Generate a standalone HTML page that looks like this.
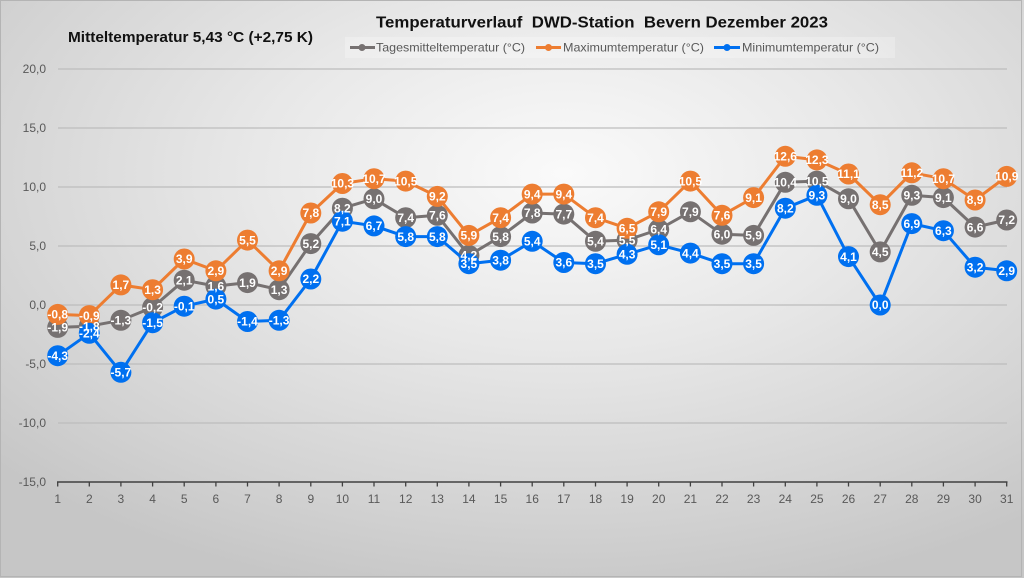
<!DOCTYPE html>
<html><head><meta charset="utf-8"><style>
html,body{margin:0;padding:0;background:#fff;}
svg{display:block;font-family:"Liberation Sans",Arial,sans-serif;}
</style></head><body>
<svg width="1024" height="578" viewBox="0 0 1024 578" xmlns="http://www.w3.org/2000/svg">
<defs>
<radialGradient id="bg" cx="0.55" cy="0.3" r="0.75">
<stop offset="0" stop-color="#fafafa"/>
<stop offset="0.4" stop-color="#e8e8e8"/>
<stop offset="0.8" stop-color="#d2d2d2"/>
<stop offset="1" stop-color="#c6c6c6"/>
</radialGradient>
</defs>
<rect x="0" y="0" width="1024" height="578" fill="url(#bg)"/>
<rect x="0.5" y="0.5" width="1021" height="576" fill="none" stroke="#b4b4b4" stroke-width="1"/>

<!-- titles -->
<text x="68" y="42" font-size="15" font-weight="bold" fill="#111" textLength="245" lengthAdjust="spacingAndGlyphs">Mitteltemperatur 5,43 °C (+2,75 K)</text>
<text x="376" y="27.5" font-size="16" font-weight="bold" fill="#111" textLength="452" lengthAdjust="spacingAndGlyphs" xml:space="preserve">Temperaturverlauf  DWD-Station  Bevern Dezember 2023</text>

<!-- legend -->
<rect x="345" y="37" width="550" height="21" fill="#ffffff" fill-opacity="0.25"/>
<g stroke-width="3">
<line x1="350" y1="47.5" x2="375" y2="47.5" stroke="#767171"/>
<line x1="536" y1="47.5" x2="561" y2="47.5" stroke="#ED7D31"/>
<line x1="714" y1="47.5" x2="740" y2="47.5" stroke="#0070F0"/>
</g>
<circle cx="362" cy="47.5" r="3.5" fill="#767171"/>
<circle cx="548.5" cy="47.5" r="3.5" fill="#ED7D31"/>
<circle cx="727" cy="47.5" r="3.5" fill="#0070F0"/>
<g font-size="12" fill="#595959">
<text x="376" y="51.5" textLength="149" lengthAdjust="spacingAndGlyphs">Tagesmitteltemperatur (°C)</text>
<text x="563" y="51.5" textLength="141" lengthAdjust="spacingAndGlyphs">Maximumtemperatur (°C)</text>
<text x="742" y="51.5" textLength="137" lengthAdjust="spacingAndGlyphs">Minimumtemperatur (°C)</text>
</g>

<!-- gridlines -->
<g stroke="#bdbdbd" stroke-width="1.2">
<line x1="58" y1="69" x2="1007" y2="69"/>
<line x1="58" y1="128" x2="1007" y2="128"/>
<line x1="58" y1="187" x2="1007" y2="187"/>
<line x1="58" y1="246" x2="1007" y2="246"/>
<line x1="58" y1="305" x2="1007" y2="305"/>
<line x1="58" y1="364" x2="1007" y2="364"/>
<line x1="58" y1="423" x2="1007" y2="423"/>
</g>

<!-- y labels -->
<g font-size="12" fill="#595959" text-anchor="end">
<text x="46" y="73">20,0</text>
<text x="46" y="132">15,0</text>
<text x="46" y="191">10,0</text>
<text x="46" y="250">5,0</text>
<text x="46" y="309">0,0</text>
<text x="46" y="368">-5,0</text>
<text x="46" y="427">-10,0</text>
<text x="46" y="486">-15,0</text>
</g>

<!-- x axis -->
<line x1="57" y1="482" x2="1007.5" y2="482" stroke="#404040" stroke-width="1.6"/>
<g stroke="#404040" stroke-width="1.3">
<line x1="57.7" y1="482" x2="57.7" y2="486.5"/><line x1="89.3" y1="482" x2="89.3" y2="486.5"/><line x1="120.9" y1="482" x2="120.9" y2="486.5"/><line x1="152.6" y1="482" x2="152.6" y2="486.5"/><line x1="184.2" y1="482" x2="184.2" y2="486.5"/><line x1="215.9" y1="482" x2="215.9" y2="486.5"/><line x1="247.5" y1="482" x2="247.5" y2="486.5"/><line x1="279.1" y1="482" x2="279.1" y2="486.5"/><line x1="310.8" y1="482" x2="310.8" y2="486.5"/><line x1="342.4" y1="482" x2="342.4" y2="486.5"/><line x1="374.0" y1="482" x2="374.0" y2="486.5"/><line x1="405.7" y1="482" x2="405.7" y2="486.5"/><line x1="437.3" y1="482" x2="437.3" y2="486.5"/><line x1="468.9" y1="482" x2="468.9" y2="486.5"/><line x1="500.6" y1="482" x2="500.6" y2="486.5"/><line x1="532.2" y1="482" x2="532.2" y2="486.5"/><line x1="563.8" y1="482" x2="563.8" y2="486.5"/><line x1="595.5" y1="482" x2="595.5" y2="486.5"/><line x1="627.1" y1="482" x2="627.1" y2="486.5"/><line x1="658.7" y1="482" x2="658.7" y2="486.5"/><line x1="690.4" y1="482" x2="690.4" y2="486.5"/><line x1="722.0" y1="482" x2="722.0" y2="486.5"/><line x1="753.6" y1="482" x2="753.6" y2="486.5"/><line x1="785.3" y1="482" x2="785.3" y2="486.5"/><line x1="816.9" y1="482" x2="816.9" y2="486.5"/><line x1="848.5" y1="482" x2="848.5" y2="486.5"/><line x1="880.2" y1="482" x2="880.2" y2="486.5"/><line x1="911.8" y1="482" x2="911.8" y2="486.5"/><line x1="943.4" y1="482" x2="943.4" y2="486.5"/><line x1="975.1" y1="482" x2="975.1" y2="486.5"/><line x1="1006.7" y1="482" x2="1006.7" y2="486.5"/>
</g>
<g font-size="12" fill="#595959" text-anchor="middle">
<text x="57.7" y="503">1</text><text x="89.3" y="503">2</text><text x="120.9" y="503">3</text><text x="152.6" y="503">4</text><text x="184.2" y="503">5</text><text x="215.9" y="503">6</text><text x="247.5" y="503">7</text><text x="279.1" y="503">8</text><text x="310.8" y="503">9</text><text x="342.4" y="503">10</text><text x="374.0" y="503">11</text><text x="405.7" y="503">12</text><text x="437.3" y="503">13</text><text x="468.9" y="503">14</text><text x="500.6" y="503">15</text><text x="532.2" y="503">16</text><text x="563.8" y="503">17</text><text x="595.5" y="503">18</text><text x="627.1" y="503">19</text><text x="658.7" y="503">20</text><text x="690.4" y="503">21</text><text x="722.0" y="503">22</text><text x="753.6" y="503">23</text><text x="785.3" y="503">24</text><text x="816.9" y="503">25</text><text x="848.5" y="503">26</text><text x="880.2" y="503">27</text><text x="911.8" y="503">28</text><text x="943.4" y="503">29</text><text x="975.1" y="503">30</text><text x="1006.7" y="503">31</text>
</g>

<!-- mean series (gray) -->
<polyline fill="none" stroke="#767171" stroke-width="3" stroke-linejoin="round" points="57.7,327.4 89.3,326.2 120.9,320.3 152.6,307.4 184.2,280.2 215.9,286.1 247.5,282.6 279.1,289.7 310.8,243.6 342.4,208.2 374.0,198.8 405.7,217.7 437.3,215.3 468.9,255.4 500.6,236.6 532.2,213.0 563.8,214.1 595.5,241.3 627.1,240.1 658.7,229.5 690.4,211.8 722.0,234.2 753.6,235.4 785.3,182.3 816.9,181.1 848.5,198.8 880.2,251.9 911.8,195.3 943.4,197.6 975.1,227.1 1006.7,220.0"/>
<g fill="#767171">
<circle cx="57.7" cy="327.4" r="10.5"/><circle cx="89.3" cy="326.2" r="10.5"/><circle cx="120.9" cy="320.3" r="10.5"/><circle cx="152.6" cy="307.4" r="10.5"/><circle cx="184.2" cy="280.2" r="10.5"/><circle cx="215.9" cy="286.1" r="10.5"/><circle cx="247.5" cy="282.6" r="10.5"/><circle cx="279.1" cy="289.7" r="10.5"/><circle cx="310.8" cy="243.6" r="10.5"/><circle cx="342.4" cy="208.2" r="10.5"/><circle cx="374.0" cy="198.8" r="10.5"/><circle cx="405.7" cy="217.7" r="10.5"/><circle cx="437.3" cy="215.3" r="10.5"/><circle cx="468.9" cy="255.4" r="10.5"/><circle cx="500.6" cy="236.6" r="10.5"/><circle cx="532.2" cy="213.0" r="10.5"/><circle cx="563.8" cy="214.1" r="10.5"/><circle cx="595.5" cy="241.3" r="10.5"/><circle cx="627.1" cy="240.1" r="10.5"/><circle cx="658.7" cy="229.5" r="10.5"/><circle cx="690.4" cy="211.8" r="10.5"/><circle cx="722.0" cy="234.2" r="10.5"/><circle cx="753.6" cy="235.4" r="10.5"/><circle cx="785.3" cy="182.3" r="10.5"/><circle cx="816.9" cy="181.1" r="10.5"/><circle cx="848.5" cy="198.8" r="10.5"/><circle cx="880.2" cy="251.9" r="10.5"/><circle cx="911.8" cy="195.3" r="10.5"/><circle cx="943.4" cy="197.6" r="10.5"/><circle cx="975.1" cy="227.1" r="10.5"/><circle cx="1006.7" cy="220.0" r="10.5"/>
</g>

<!-- max series (orange) -->
<polyline fill="none" stroke="#ED7D31" stroke-width="3" stroke-linejoin="round" points="57.7,314.4 89.3,315.6 120.9,284.9 152.6,289.7 184.2,259.0 215.9,270.8 247.5,240.1 279.1,270.8 310.8,213.0 342.4,183.5 374.0,178.7 405.7,181.1 437.3,196.4 468.9,235.4 500.6,217.7 532.2,194.1 563.8,194.1 595.5,217.7 627.1,228.3 658.7,211.8 690.4,181.1 722.0,215.3 753.6,197.6 785.3,156.3 816.9,159.9 848.5,174.0 880.2,204.7 911.8,172.8 943.4,178.7 975.1,200.0 1006.7,176.4"/>
<g fill="#ED7D31">
<circle cx="57.7" cy="314.4" r="10.5"/><circle cx="89.3" cy="315.6" r="10.5"/><circle cx="120.9" cy="284.9" r="10.5"/><circle cx="152.6" cy="289.7" r="10.5"/><circle cx="184.2" cy="259.0" r="10.5"/><circle cx="215.9" cy="270.8" r="10.5"/><circle cx="247.5" cy="240.1" r="10.5"/><circle cx="279.1" cy="270.8" r="10.5"/><circle cx="310.8" cy="213.0" r="10.5"/><circle cx="342.4" cy="183.5" r="10.5"/><circle cx="374.0" cy="178.7" r="10.5"/><circle cx="405.7" cy="181.1" r="10.5"/><circle cx="437.3" cy="196.4" r="10.5"/><circle cx="468.9" cy="235.4" r="10.5"/><circle cx="500.6" cy="217.7" r="10.5"/><circle cx="532.2" cy="194.1" r="10.5"/><circle cx="563.8" cy="194.1" r="10.5"/><circle cx="595.5" cy="217.7" r="10.5"/><circle cx="627.1" cy="228.3" r="10.5"/><circle cx="658.7" cy="211.8" r="10.5"/><circle cx="690.4" cy="181.1" r="10.5"/><circle cx="722.0" cy="215.3" r="10.5"/><circle cx="753.6" cy="197.6" r="10.5"/><circle cx="785.3" cy="156.3" r="10.5"/><circle cx="816.9" cy="159.9" r="10.5"/><circle cx="848.5" cy="174.0" r="10.5"/><circle cx="880.2" cy="204.7" r="10.5"/><circle cx="911.8" cy="172.8" r="10.5"/><circle cx="943.4" cy="178.7" r="10.5"/><circle cx="975.1" cy="200.0" r="10.5"/><circle cx="1006.7" cy="176.4" r="10.5"/>
</g>

<!-- min series (blue) -->
<polyline fill="none" stroke="#0070F0" stroke-width="3" stroke-linejoin="round" points="57.7,355.7 89.3,333.3 120.9,372.3 152.6,322.7 184.2,306.2 215.9,299.1 247.5,321.5 279.1,320.3 310.8,279.0 342.4,221.2 374.0,225.9 405.7,236.6 437.3,236.6 468.9,263.7 500.6,260.2 532.2,241.3 563.8,262.5 595.5,263.7 627.1,254.3 658.7,244.8 690.4,253.1 722.0,263.7 753.6,263.7 785.3,208.2 816.9,195.3 848.5,256.6 880.2,305.0 911.8,223.6 943.4,230.7 975.1,267.2 1006.7,270.8"/>
<g fill="#0070F0">
<circle cx="57.7" cy="355.7" r="10.5"/><circle cx="89.3" cy="333.3" r="10.5"/><circle cx="120.9" cy="372.3" r="10.5"/><circle cx="152.6" cy="322.7" r="10.5"/><circle cx="184.2" cy="306.2" r="10.5"/><circle cx="215.9" cy="299.1" r="10.5"/><circle cx="247.5" cy="321.5" r="10.5"/><circle cx="279.1" cy="320.3" r="10.5"/><circle cx="310.8" cy="279.0" r="10.5"/><circle cx="342.4" cy="221.2" r="10.5"/><circle cx="374.0" cy="225.9" r="10.5"/><circle cx="405.7" cy="236.6" r="10.5"/><circle cx="437.3" cy="236.6" r="10.5"/><circle cx="468.9" cy="263.7" r="10.5"/><circle cx="500.6" cy="260.2" r="10.5"/><circle cx="532.2" cy="241.3" r="10.5"/><circle cx="563.8" cy="262.5" r="10.5"/><circle cx="595.5" cy="263.7" r="10.5"/><circle cx="627.1" cy="254.3" r="10.5"/><circle cx="658.7" cy="244.8" r="10.5"/><circle cx="690.4" cy="253.1" r="10.5"/><circle cx="722.0" cy="263.7" r="10.5"/><circle cx="753.6" cy="263.7" r="10.5"/><circle cx="785.3" cy="208.2" r="10.5"/><circle cx="816.9" cy="195.3" r="10.5"/><circle cx="848.5" cy="256.6" r="10.5"/><circle cx="880.2" cy="305.0" r="10.5"/><circle cx="911.8" cy="223.6" r="10.5"/><circle cx="943.4" cy="230.7" r="10.5"/><circle cx="975.1" cy="267.2" r="10.5"/><circle cx="1006.7" cy="270.8" r="10.5"/>
</g>

<!-- data labels -->
<g font-size="12" font-weight="bold" fill="#ffffff" text-anchor="middle">
<!-- mean -->
<text x="57.7" y="331.6">-1,9</text><text x="89.3" y="330.4">-1,8</text><text x="120.9" y="324.5">-1,3</text><text x="152.6" y="311.6">-0,2</text><text x="184.2" y="284.4">2,1</text><text x="215.9" y="290.3">1,6</text><text x="247.5" y="286.8">1,9</text><text x="279.1" y="293.9">1,3</text><text x="310.8" y="247.8">5,2</text><text x="342.4" y="212.4">8,2</text><text x="374.0" y="203.0">9,0</text><text x="405.7" y="221.9">7,4</text><text x="437.3" y="219.5">7,6</text><text x="468.9" y="259.6">4,2</text><text x="500.6" y="240.8">5,8</text><text x="532.2" y="217.2">7,8</text><text x="563.8" y="218.3">7,7</text><text x="595.5" y="245.5">5,4</text><text x="627.1" y="244.3">5,5</text><text x="658.7" y="233.7">6,4</text><text x="690.4" y="216.0">7,9</text><text x="722.0" y="238.4">6,0</text><text x="753.6" y="239.6">5,9</text><text x="785.3" y="186.5">10,4</text><text x="816.9" y="185.3">10,5</text><text x="848.5" y="203.0">9,0</text><text x="880.2" y="256.1">4,5</text><text x="911.8" y="199.5">9,3</text><text x="943.4" y="201.8">9,1</text><text x="975.1" y="231.3">6,6</text><text x="1006.7" y="224.2">7,2</text>
<!-- max -->
<text x="57.7" y="318.6">-0,8</text><text x="89.3" y="319.8">-0,9</text><text x="120.9" y="289.1">1,7</text><text x="152.6" y="293.9">1,3</text><text x="184.2" y="263.2">3,9</text><text x="215.9" y="275.0">2,9</text><text x="247.5" y="244.3">5,5</text><text x="279.1" y="275.0">2,9</text><text x="310.8" y="217.2">7,8</text><text x="342.4" y="187.7">10,3</text><text x="374.0" y="182.9">10,7</text><text x="405.7" y="185.3">10,5</text><text x="437.3" y="200.6">9,2</text><text x="468.9" y="239.6">5,9</text><text x="500.6" y="221.9">7,4</text><text x="532.2" y="198.3">9,4</text><text x="563.8" y="198.3">9,4</text><text x="595.5" y="221.9">7,4</text><text x="627.1" y="232.5">6,5</text><text x="658.7" y="216.0">7,9</text><text x="690.4" y="185.3">10,5</text><text x="722.0" y="219.5">7,6</text><text x="753.6" y="201.8">9,1</text><text x="785.3" y="160.5">12,6</text><text x="816.9" y="164.1">12,3</text><text x="848.5" y="178.2">11,1</text><text x="880.2" y="208.9">8,5</text><text x="911.8" y="177.0">11,2</text><text x="943.4" y="182.9">10,7</text><text x="975.1" y="204.2">8,9</text><text x="1006.7" y="180.6">10,9</text>
<!-- min -->
<text x="57.7" y="359.9">-4,3</text><text x="89.3" y="337.5">-2,4</text><text x="120.9" y="376.5">-5,7</text><text x="152.6" y="326.9">-1,5</text><text x="184.2" y="310.4">-0,1</text><text x="215.9" y="303.3">0,5</text><text x="247.5" y="325.7">-1,4</text><text x="279.1" y="324.5">-1,3</text><text x="310.8" y="283.2">2,2</text><text x="342.4" y="225.4">7,1</text><text x="374.0" y="230.1">6,7</text><text x="405.7" y="240.8">5,8</text><text x="437.3" y="240.8">5,8</text><text x="468.9" y="267.9">3,5</text><text x="500.6" y="264.4">3,8</text><text x="532.2" y="245.5">5,4</text><text x="563.8" y="266.7">3,6</text><text x="595.5" y="267.9">3,5</text><text x="627.1" y="258.5">4,3</text><text x="658.7" y="249.0">5,1</text><text x="690.4" y="257.3">4,4</text><text x="722.0" y="267.9">3,5</text><text x="753.6" y="267.9">3,5</text><text x="785.3" y="212.4">8,2</text><text x="816.9" y="199.5">9,3</text><text x="848.5" y="260.8">4,1</text><text x="880.2" y="309.2">0,0</text><text x="911.8" y="227.8">6,9</text><text x="943.4" y="234.9">6,3</text><text x="975.1" y="271.4">3,2</text><text x="1006.7" y="275.0">2,9</text>
</g>
</svg>
</body></html>
